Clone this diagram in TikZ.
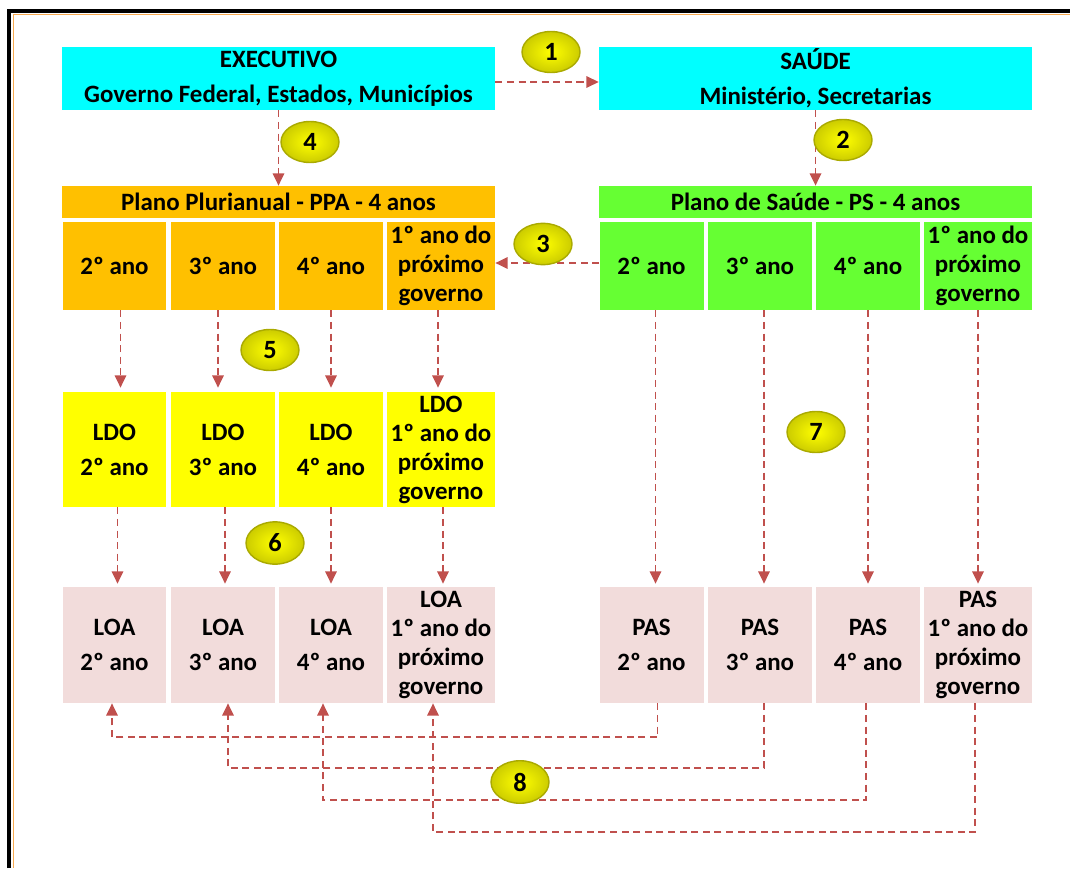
\documentclass[tikz,border=0pt]{standalone}
\usepackage{fontspec}
\setmainfont{Carlito}
\usetikzlibrary{arrows.meta,shapes.geometric}
\definecolor{TopCyan}{RGB}{0,255,255}
\definecolor{PpaOrange}{RGB}{255,192,0}
\definecolor{PsGreen}{RGB}{102,255,51}
\definecolor{LdoYellow}{RGB}{255,255,0}
\definecolor{LoaPink}{RGB}{242,220,219}
\definecolor{LinkRed}{RGB}{192,80,77}
\definecolor{BadgeRim}{RGB}{170,170,0}
\definecolor{FrameOrange}{RGB}{247,170,80}

\begin{document}
\begin{tikzpicture}[
    x=0.02cm, y=-0.02cm,
    cell/.style={
        rectangle,
        inner sep=0pt,
        align=center,
        font=\fontsize{14.2}{16.5}\selectfont\bfseries,
        minimum width=2.08cm,
        minimum height=1.76cm
    },
    head/.style={
        cell,
        minimum width=8.66cm,
        minimum height=0.64cm
    },
    badge/.style={
        ellipse,
        draw=BadgeRim,
        thick,
        inner color=LdoYellow,
        outer color=LdoYellow!80!black,
        minimum width=1.16cm,
        minimum height=0.82cm,
        font=\fontsize{15}{15}\selectfont\bfseries
    },
    link/.style={
        draw=LinkRed,
        line width=1.1pt,
        dash pattern=on 4pt off 2.6pt,
        -{Triangle[length=7pt,width=6.5pt]}
    }
]
\useasboundingbox (0,0) rectangle (1070,868);

% Frame
\draw[line width=2pt] (9,868) -- (9,11) -- (1070,11);
\draw[FrameOrange, line width=1pt] (13.5,868) -- (13.5,14.5) -- (1070,14.5);

% Top boxes
\node[head, fill=TopCyan, minimum height=1.26cm] (exe) at (278.5,78.5)
      {EXECUTIVO\\[3.5pt]Governo Federal, Estados, Municípios};
\node[head, fill=TopCyan, minimum height=1.26cm] (sau) at (815.5,78.5)
      {SAÚDE\\[3.5pt]Ministério, Secretarias};

% Plan headers
\node[head, fill=PpaOrange] (ppa) at (278.5,202)
      {Plano Plurianual - PPA - 4 anos};
\node[head, fill=PsGreen] (ps) at (815.5,202)
      {Plano de Saúde - PS - 4 anos};

% PPA years
\node[cell, fill=PpaOrange] (ppa2) at (114.5,266) {2º ano};
\node[cell, fill=PpaOrange] (ppa3) at (223,266) {3º ano};
\node[cell, fill=PpaOrange] (ppa4) at (331,266) {4º ano};
\node[cell, fill=PpaOrange, minimum width=2.16cm] (ppa1) at (441,266)
      {1º ano do\\próximo\\governo};

% PS years
\node[cell, fill=PsGreen] (ps2) at (651.5,266) {2º ano};
\node[cell, fill=PsGreen] (ps3) at (760,266) {3º ano};
\node[cell, fill=PsGreen] (ps4) at (868,266) {4º ano};
\node[cell, fill=PsGreen, minimum width=2.16cm] (ps1) at (978,266)
      {1º ano do\\próximo\\governo};

% LDO row
\node[cell, fill=LdoYellow, minimum height=2.3cm] (ldo2) at (114.5,449.5) {LDO\\[3.5pt]2º ano};
\node[cell, fill=LdoYellow, minimum height=2.3cm] (ldo3) at (223,449.5) {LDO\\[3.5pt]3º ano};
\node[cell, fill=LdoYellow, minimum height=2.3cm] (ldo4) at (331,449.5) {LDO\\[3.5pt]4º ano};
\node[cell, fill=LdoYellow, minimum height=2.3cm, minimum width=2.16cm] (ldo1) at (441,449.5)
      {LDO\\1º ano do\\próximo\\governo};

% LOA row
\node[cell, fill=LoaPink, minimum height=2.32cm] (loa2) at (114.5,645) {LOA\\[3.5pt]2º ano};
\node[cell, fill=LoaPink, minimum height=2.32cm] (loa3) at (223,645) {LOA\\[3.5pt]3º ano};
\node[cell, fill=LoaPink, minimum height=2.32cm] (loa4) at (331,645) {LOA\\[3.5pt]4º ano};
\node[cell, fill=LoaPink, minimum height=2.32cm, minimum width=2.16cm] (loa1) at (441,645)
      {LOA\\1º ano do\\próximo\\governo};

% PAS row
\node[cell, fill=LoaPink, minimum height=2.32cm] (pas2) at (651.5,645) {PAS\\[3.5pt]2º ano};
\node[cell, fill=LoaPink, minimum height=2.32cm] (pas3) at (760,645) {PAS\\[3.5pt]3º ano};
\node[cell, fill=LoaPink, minimum height=2.32cm] (pas4) at (868,645) {PAS\\[3.5pt]4º ano};
\node[cell, fill=LoaPink, minimum height=2.32cm, minimum width=2.16cm] (pas1) at (978,645)
      {PAS\\1º ano do\\próximo\\governo};

% Arrows 1 to 4
\draw[link] ([yshift=-0.07cm]exe.east) -- ([yshift=-0.07cm]sau.west);
\draw[link] (sau.south) -- (ps.north);
\draw[link] ([yshift=0.06cm]ps2.west) -- ([yshift=0.06cm]ppa1.east);
\draw[link] (exe.south) -- (ppa.north);

% Arrows 5 and 6
\draw[link] ([xshift=0.12cm]ppa2.south) -- ([xshift=0.12cm,yshift=0.08cm]ldo2.north);
\draw[link] ([xshift=-0.1cm]ppa3.south) -- ([xshift=-0.1cm,yshift=0.08cm]ldo3.north);
\draw[link] (ppa4.south) -- ([yshift=0.08cm]ldo4.north);
\draw[link] ([xshift=-0.06cm]ppa1.south) -- ([xshift=-0.06cm,yshift=0.08cm]ldo1.north);
\draw[link] ([xshift=0.06cm]ldo2.south) -- ([xshift=0.06cm,yshift=0.06cm]loa2.north);
\draw[link] ([xshift=0.04cm]ldo3.south) -- ([xshift=0.04cm,yshift=0.06cm]loa3.north);
\draw[link] (ldo4.south) -- ([yshift=0.06cm]loa4.north);
\draw[link] ([xshift=0.04cm]ldo1.south) -- ([xshift=0.04cm,yshift=0.06cm]loa1.north);

% Arrows 7
\draw[link] ([xshift=0.08cm]ps2.south) -- ([xshift=0.08cm,yshift=0.06cm]pas2.north);
\draw[link] ([xshift=0.08cm]ps3.south) -- ([xshift=0.08cm,yshift=0.06cm]pas3.north);
\draw[link] (ps4.south) -- ([yshift=0.06cm]pas4.north);
\draw[link] (ps1.south) -- ([yshift=0.06cm]pas1.north);

% Arrows 8
\draw[link] ([xshift=0.12cm]pas2.south) -- ++(0,34) -| ([xshift=-0.05cm]loa2.south);
\draw[link] ([xshift=0.08cm]pas3.south) -- ++(0,65) -| ([xshift=0.1cm]loa3.south);
\draw[link] ([xshift=-0.04cm]pas4.south) -- ++(0,97) -| ([xshift=-0.16cm]loa4.south);
\draw[link] ([xshift=-0.06cm]pas1.south) -- ++(0,129) -| ([xshift=-0.16cm]loa1.south);

% Numbered badges
\node[badge] (n1) at (551,52) {1};
\node[badge] (n2) at (843,140) {2};
\node[badge] (n3) at (543,244) {3};
\node[badge] (n4) at (310,142) {4};
\node[badge] (n5) at (270,350) {5};
\node[badge] (n6) at (275,543) {6};
\node[badge] (n7) at (816,432) {7};
\node[badge] (n8) at (520,782) {8};

\end{tikzpicture}
\end{document}
